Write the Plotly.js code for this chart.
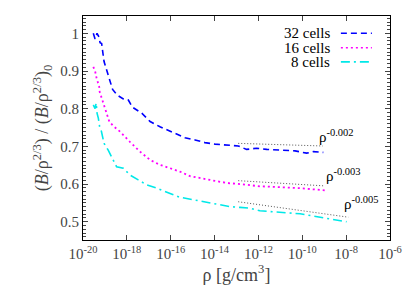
<!DOCTYPE html>
<html><head><meta charset="utf-8">
<script src="https://cdn.plot.ly/plotly-3.0.1.min.js"></script>
<style>html,body{margin:0;padding:0;background:#fff}#chart{width:415px;height:291px}</style>
</head><body><div id="chart"></div>
<script>
// 32 cells
const rho32 = [2.95e-20,3.55e-20,4.37e-20,5.37e-20,6.0e-20,7.08e-20,9.12e-20,1.29e-19,1.70e-19,2.24e-19,3.63e-19,6.92e-19,1.17e-18,1.78e-18,4.79e-18,1.15e-17,3.24e-17,7.76e-17,2.24e-16,4.47e-16,1.29e-15,3.63e-15,1.05e-14,3.02e-14,1.20e-13,2.88e-13,8.32e-13,2.40e-12,9.55e-12,4.68e-11,1.58e-10,3.16e-10,9.12e-10];
const val32 = [1.00,0.985,1.00,0.99,0.975,0.973,0.925,0.898,0.876,0.851,0.836,0.826,0.823,0.804,0.788,0.766,0.752,0.742,0.730,0.723,0.717,0.710,0.706,0.704,0.701,0.692,0.695,0.692,0.690,0.688,0.682,0.686,0.684];
// 16 cells
const rho16 = [2.95e-20,3.55e-20,4.17e-20,4.68e-20,5.50e-20,5.75e-20,7.08e-20,9.12e-20,1.20e-19,1.58e-19,2.40e-19,4.90e-19,1.38e-18,3.98e-18,1.15e-17,3.24e-17,9.33e-17,2.63e-16,7.59e-16,2.19e-15,6.17e-15,1.78e-14,5.01e-14,1.45e-13,4.17e-13,1.17e-12,3.39e-12,1.35e-11,7.94e-11,3.16e-10,1.20e-9];
const val16 = [0.911,0.900,0.881,0.872,0.858,0.845,0.828,0.805,0.788,0.766,0.754,0.739,0.712,0.686,0.664,0.651,0.642,0.633,0.621,0.615,0.611,0.606,0.602,0.600,0.596,0.594,0.593,0.592,0.589,0.586,0.583];
// 8 cells
const rho8 = [2.95e-20,3.55e-20,4.0e-20,4.37e-20,5.0e-20,5.75e-20,6.9e-20,9.12e-20,1.41e-19,2.04e-19,2.88e-19,3.39e-19,6.92e-19,1.38e-18,3.31e-18,7.94e-18,2.29e-17,6.61e-17,9.33e-17,2.63e-16,7.59e-16,2.19e-15,6.17e-15,1.78e-14,5.01e-14,1.45e-13,4.17e-13,1.17e-12,3.39e-12,1.35e-11,7.94e-11,3.16e-10,1.29e-9,3.72e-9,1.05e-8];
const val8 = [0.810,0.800,0.815,0.788,0.775,0.752,0.740,0.708,0.690,0.673,0.655,0.646,0.642,0.624,0.611,0.598,0.589,0.580,0.575,0.565,0.560,0.555,0.551,0.545,0.540,0.538,0.536,0.529,0.527,0.524,0.521,0.515,0.509,0.505,0.500];
// power-law guide lines (endpoints)
const fitRho32 = [1.20e-13, 8.5e-10], fitVal32 = [0.708, 0.701];
const fitRho16 = [1.20e-13, 1.10e-9], fitVal16 = [0.609, 0.595];
const fitRho8  = [1.20e-13, 1.26e-8], fitVal8  = [0.553, 0.512];
const fitLabels = ['ρ<sup>-0.002</sup>','ρ<sup>-0.003</sup>','ρ<sup>-0.005</sup>'];
const seriesNames = ['32 cells','16 cells','8 cells'];
const xTickVals = [1e-20,1e-18,1e-16,1e-14,1e-12,1e-10,1e-8,1e-6];
const xTickText = ['10<sup>-20</sup>','10<sup>-18</sup>','10<sup>-16</sup>','10<sup>-14</sup>','10<sup>-12</sup>','10<sup>-10</sup>','10<sup>-8</sup>','10<sup>-6</sup>'];
const yTickVals = [0.5,0.6,0.7,0.8,0.9,1.0];
const yTickText = ['0.5','0.6','0.7','0.8','0.9','1'];

const lineColors = ['#0000ff','#ff00ff','#00e8e8'];
const lineDashes = ['6px,4px','2px,3px','9px,4px,2px,4px'];
const FAM = 'Liberation Serif';

const traces = [
  {x:rho32,y:val32,mode:'lines',line:{color:lineColors[0],width:1.6,dash:lineDashes[0]},name:seriesNames[0]},
  {x:rho16,y:val16,mode:'lines',line:{color:lineColors[1],width:1.8,dash:lineDashes[1]},name:seriesNames[1]},
  {x:rho8,y:val8,mode:'lines',line:{color:lineColors[2],width:1.6,dash:lineDashes[2]},name:seriesNames[2]},
  {x:fitRho32,y:fitVal32,mode:'lines',line:{color:'#555',width:1,dash:'1px,2px'},showlegend:false},
  {x:fitRho16,y:fitVal16,mode:'lines',line:{color:'#555',width:1,dash:'1px,2px'},showlegend:false},
  {x:fitRho8,y:fitVal8,mode:'lines',line:{color:'#555',width:1,dash:'1px,2px'},showlegend:false}
];

const legX0 = 0.840, legX1 = 0.941, legTxt = 0.811, legY = [0.923,0.858,0.795];
const shp = [], ann = [];
seriesNames.forEach((n,i)=>{
  shp.push({type:'line',xref:'paper',yref:'paper',x0:legX0,x1:legX1,y0:legY[i],y1:legY[i],line:{color:lineColors[i],width:1.6,dash:lineDashes[i]}});
  ann.push({xref:'paper',yref:'paper',x:legTxt,y:legY[i],xanchor:'right',yanchor:'middle',showarrow:false,text:n,font:{family:FAM,size:15,color:'#000'}});
});
const labPos = [[0.762,0.466],[0.785,0.288],[0.843,0.163]];
fitLabels.forEach((t,i)=>{
  ann.push({xref:'paper',yref:'paper',x:labPos[i][0],y:labPos[i][1],xanchor:'left',yanchor:'middle',showarrow:false,text:t,font:{family:FAM,size:15,color:'#000'}});
});

const lay = {
  width:415,height:291,
  margin:{l:83,r:25,t:16,b:51},
  showlegend:false,
  font:{family:FAM,size:15},
  xaxis:{type:'log',range:[-20,-6],tickvals:xTickVals,ticktext:xTickText,ticks:'inside',ticklen:5,tickwidth:1,
    showline:true,linecolor:'#000',linewidth:1,mirror:'allticks',showgrid:false,zeroline:false,
    title:{text:'ρ [g/cm<sup>3</sup>]',standoff:4}},
  yaxis:{range:[0.4515,1.046],tickvals:yTickVals,ticktext:yTickText,ticks:'inside',ticklen:5,tickwidth:1,
    showline:true,linecolor:'#000',linewidth:1,mirror:'allticks',showgrid:false,zeroline:false,
    minor:{dtick:0.01,ticks:'inside',ticklen:3,tickwidth:1,showgrid:false},
    title:{text:'(<i>B</i>/ρ<sup>2/3</sup>) / (<i>B</i>/ρ<sup>2/3</sup>)<sub>0</sub>',standoff:6}},
  shapes:shp,annotations:ann
};
Plotly.newPlot('chart',traces,lay,{staticPlot:true});
</script></body></html>
